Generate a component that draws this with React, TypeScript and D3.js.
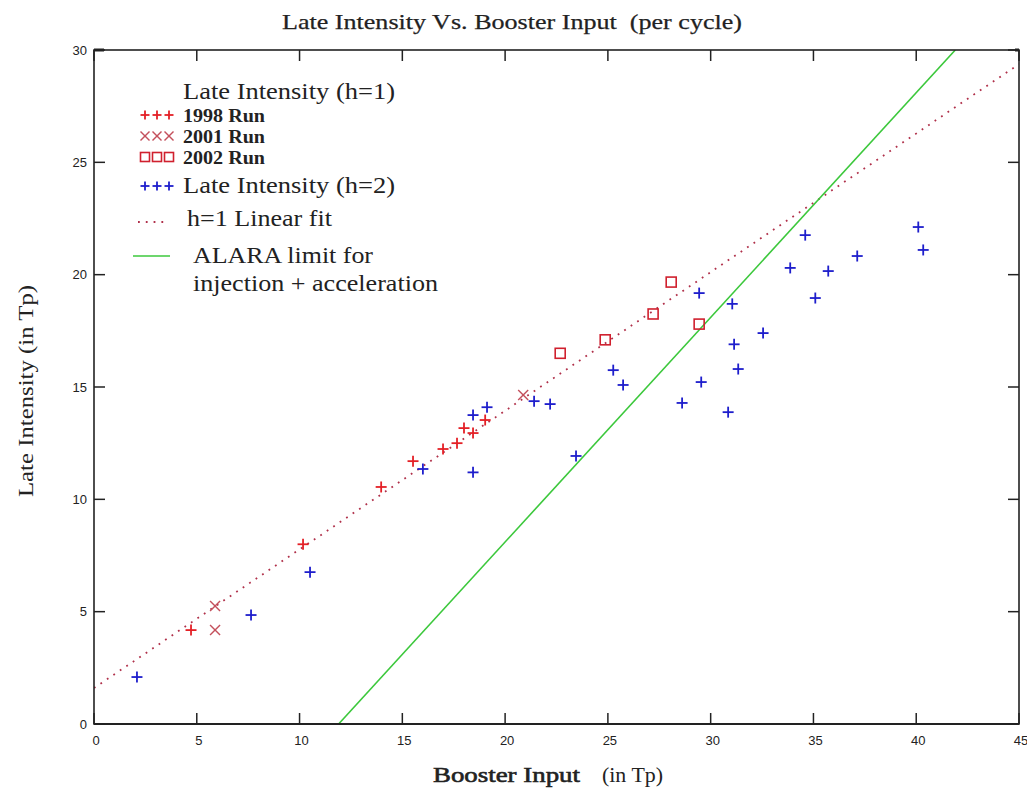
import React from "react";
import * as d3 from "d3";

// ---- data ----
const run1998: [number, number][] = [
  [4.72, 4.18], [10.17, 8.0], [13.97, 10.55], [15.52, 11.7], [16.98, 12.24],
  [17.66, 12.5], [18.0, 13.17], [18.44, 12.95], [19.03, 13.53],
];
const run2001: [number, number][] = [
  [5.89, 5.25], [5.89, 4.18], [20.88, 14.64],
];
const run2002: [number, number][] = [
  [22.68, 16.5], [24.87, 17.1], [27.2, 18.25], [28.08, 19.67], [29.44, 17.8],
];
const lateH2: [number, number][] = [
  [2.09, 2.09], [7.64, 4.85], [10.51, 6.76], [16.0, 11.35], [18.44, 11.2],
  [18.44, 13.75], [19.12, 14.1], [21.41, 14.37], [22.19, 14.24], [23.45, 11.93],
  [25.26, 15.75], [25.74, 15.09], [28.61, 14.29], [29.54, 15.22], [30.85, 13.88],
  [29.44, 19.18], [31.05, 18.7], [31.14, 16.9], [31.34, 15.8], [32.55, 17.4],
  [33.87, 20.3], [34.6, 21.76], [35.09, 18.96], [35.72, 20.16], [37.13, 20.83],
  [40.1, 22.12], [40.34, 21.1],
];
const fitLine: [number, number][] = [[0, 1.6], [45, 29.37]];
const alaraLine: [number, number][] = [[11.9, 0], [41.9, 30]];
const xTicks = [0, 5, 10, 15, 20, 25, 30, 35, 40, 45];
const yTicks = [0, 5, 10, 15, 20, 25, 30];

const RED = "#e42026";
const XRED = "#c4505c";
const SQRED = "#d0202e";
const BLUE = "#1e1ecc";
const GREEN = "#3cc83c";
const FIT = "#b0304a";
const SERIF = "'Liberation Serif', 'Times New Roman', serif";
const SANS = "'Liberation Sans', Arial, sans-serif";

const Plus = ({ cx, cy, s, c }: { cx: number; cy: number; s: number; c: string }) => (
  <g stroke={c} strokeWidth={1.8}>
    <line x1={cx - s} x2={cx + s} y1={cy} y2={cy} />
    <line x1={cx} x2={cx} y1={cy - s} y2={cy + s} />
  </g>
);
const Cross = ({ cx, cy, s, c }: { cx: number; cy: number; s: number; c: string }) => (
  <g stroke={c} strokeWidth={1.4}>
    <line x1={cx - s} x2={cx + s} y1={cy - s} y2={cy + s} />
    <line x1={cx - s} x2={cx + s} y1={cy + s} y2={cy - s} />
  </g>
);
const Square = ({ cx, cy, s, c }: { cx: number; cy: number; s: number; c: string }) => (
  <rect x={cx - s} y={cy - s} width={2 * s} height={2 * s} fill="none" stroke={c} strokeWidth={1.6} />
);

export default function App() {
  const W = 1027, H = 790;
  const L = 94, R = 1019, T = 50, B = 724;
  const x = d3.scaleLinear().domain([0, 45]).range([L, R]);
  const y = d3.scaleLinear().domain([0, 30]).range([B, T]);
  const line = d3.line<[number, number]>().x(d => x(d[0])).y(d => y(d[1]));
  const TL = 11;

  return (
    <svg width={W} height={H} style={{ position: "absolute", left: 0, top: 0, background: "#fff" }}>
      <defs>
        <clipPath id="plot"><rect x={L} y={T} width={R - L} height={B - T} /></clipPath>
      </defs>
      <rect x={0} y={0} width={W} height={H} fill="#fff" />

      {/* title */}
      <text x={282} y={29} fontFamily={SERIF} fontSize={22} fill="#222" stroke="#222" strokeWidth={0.25} textLength={460} lengthAdjust="spacingAndGlyphs">
        {"Late Intensity Vs. Booster Input\u00a0\u00a0(per cycle)"}
      </text>

      {/* axis labels */}
      <text x={433} y={782} fontFamily={SERIF} fontSize={22} fill="#222" stroke="#222" strokeWidth={0.6} textLength={147} lengthAdjust="spacingAndGlyphs">Booster Input</text>
      <text x={602} y={782} fontFamily={SERIF} fontSize={22} fill="#222" textLength={61} lengthAdjust="spacingAndGlyphs">(in Tp)</text>
      <text transform={`translate(33,497) rotate(-90)`} fontFamily={SERIF} fontSize={22} fill="#222" textLength={212} lengthAdjust="spacingAndGlyphs">Late Intensity (in Tp)</text>

      {/* lines */}
      <g clipPath="url(#plot)">
        <path d={line(fitLine) || ""} fill="none" stroke={FIT} strokeWidth={1.8} strokeDasharray="1.8,6" />
        <path d={line(alaraLine) || ""} fill="none" stroke={GREEN} strokeWidth={1.6} />
      </g>

      {/* frame */}
      <g stroke="#222" fill="none">
        <rect x={L} y={T} width={R - L} height={B - T} strokeWidth={1.6} />
        <line x1={L} x2={R} y1={B} y2={B} strokeWidth={2.2} />
        {xTicks.map(t => (
          <g key={"xt" + t} strokeWidth={1.5}>
            <line x1={x(t)} x2={x(t)} y1={B} y2={B - TL} />
            <line x1={x(t)} x2={x(t)} y1={T} y2={T + TL} />
          </g>
        ))}
        {yTicks.map(t => (
          <g key={"yt" + t} strokeWidth={1.5}>
            <line x1={L} x2={L + TL} y1={y(t)} y2={y(t)} />
            <line x1={R} x2={R - TL} y1={y(t)} y2={y(t)} />
          </g>
        ))}
        <line x1={L} x2={L + 10} y1={T} y2={T} strokeWidth={3} />
        <line x1={R - 4} x2={R} y1={T} y2={T} strokeWidth={3} />
      </g>

      {/* tick labels */}
      {xTicks.map(t => (
        <text key={"xl" + t} x={x(t) + 2} y={745} textAnchor="middle" fontFamily={SANS} fontSize={13} fill="#222">{t}</text>
      ))}
      {yTicks.map(t => (
        <text key={"yl" + t} x={87} y={y(t) + 4.5} textAnchor="end" fontFamily={SANS} fontSize={13} fill="#222">{t}</text>
      ))}

      {/* data */}
      {lateH2.map((d, i) => <Plus key={"b" + i} cx={x(d[0])} cy={y(d[1])} s={5.5} c={BLUE} />)}
      {run1998.map((d, i) => <Plus key={"r" + i} cx={x(d[0])} cy={y(d[1])} s={5.5} c={RED} />)}
      {run2001.map((d, i) => <Cross key={"x" + i} cx={x(d[0])} cy={y(d[1])} s={5} c={XRED} />)}
      {run2002.map((d, i) => <Square key={"s" + i} cx={x(d[0])} cy={y(d[1])} s={5} c={SQRED} />)}

      {/* legend */}
      <g fontFamily={SERIF} fill="#222">
        <text x={183} y={99} fontSize={24} textLength={212} lengthAdjust="spacingAndGlyphs">Late Intensity (h=1)</text>
        {[0, 1, 2].map(k => <Plus key={"l1" + k} cx={145 + k * 12} cy={115} s={4.5} c={RED} />)}
        <text x={183} y={122} fontSize={18} fontWeight="bold" textLength={82} lengthAdjust="spacingAndGlyphs">1998 Run</text>
        {[0, 1, 2].map(k => <Cross key={"l2" + k} cx={145 + k * 12} cy={136} s={4.5} c={XRED} />)}
        <text x={183} y={143} fontSize={18} fontWeight="bold" textLength={82} lengthAdjust="spacingAndGlyphs">2001 Run</text>
        {[0, 1, 2].map(k => <Square key={"l3" + k} cx={145 + k * 12} cy={157} s={4.5} c={SQRED} />)}
        <text x={183} y={164} fontSize={18} fontWeight="bold" textLength={82} lengthAdjust="spacingAndGlyphs">2002 Run</text>
        {[0, 1, 2].map(k => <Plus key={"l4" + k} cx={145 + k * 12} cy={186} s={4.5} c={BLUE} />)}
        <text x={183} y={193} fontSize={24} textLength={212} lengthAdjust="spacingAndGlyphs">Late Intensity (h=2)</text>
        <line x1={138} x2={168} y1={222} y2={222} stroke={FIT} strokeWidth={1.8} strokeDasharray="1.8,6" />
        <text x={187} y={226} fontSize={24} textLength={145} lengthAdjust="spacingAndGlyphs">h=1 Linear fit</text>
        <line x1={133} x2={170} y1={256} y2={256} stroke={GREEN} strokeWidth={1.6} />
        <text x={193} y={263} fontSize={24} textLength={180} lengthAdjust="spacingAndGlyphs">ALARA limit for</text>
        <text x={193} y={291} fontSize={24} textLength={245} lengthAdjust="spacingAndGlyphs">injection + acceleration</text>
      </g>
    </svg>
  );
}
